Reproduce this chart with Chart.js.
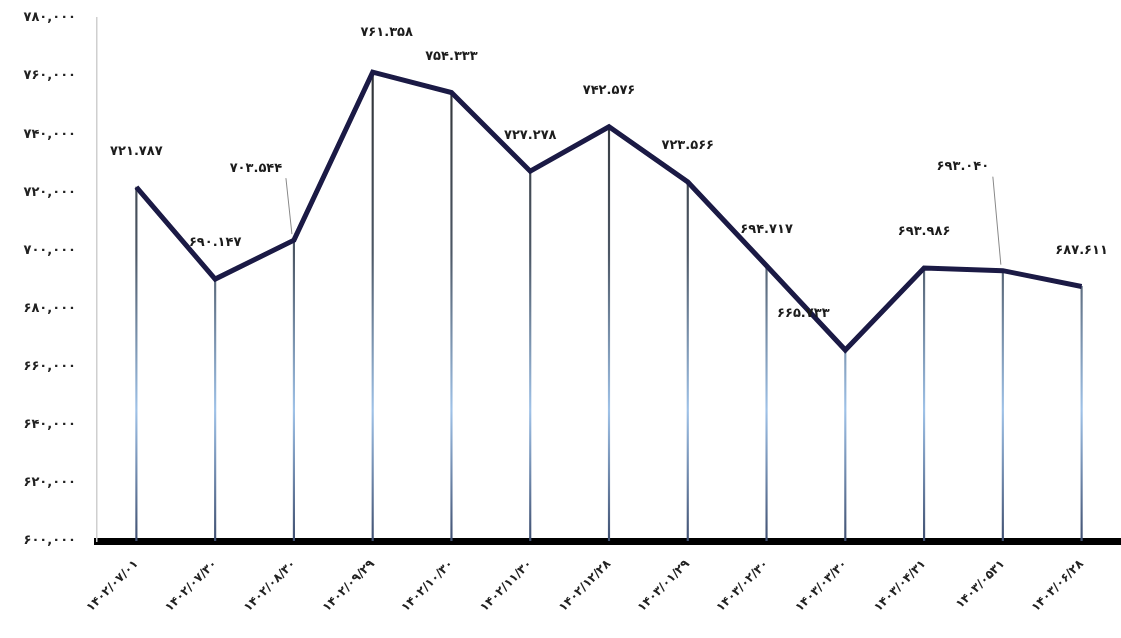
<!DOCTYPE html>
<html>
<head>
<meta charset="utf-8">
<script src="https://cdn.jsdelivr.net/npm/chart.js@4/dist/chart.umd.min.js"></script>
<style>
  html, body { margin: 0; padding: 0; background: #fff; }
  #wrap { width: 1121px; height: 638px; }
</style>
</head>
<body>
<div id="wrap"><canvas id="chart" width="1121" height="638"></canvas></div>
<script>
/* Data */
const dates = ['۱۴۰۲/۰۷/۰۱', '۱۴۰۲/۰۷/۳۰', '۱۴۰۲/۰۸/۳۰', '۱۴۰۲/۰۹/۲۹', '۱۴۰۲/۱۰/۳۰', '۱۴۰۲/۱۱/۳۰',
    '۱۴۰۲/۱۲/۲۸', '۱۴۰۳/۰۱/۲۹', '۱۴۰۳/۰۲/۳۰', '۱۴۰۳/۰۳/۳۰', '۱۴۰۳/۰۴/۳۱', '۱۴۰۳/۰۵۳۱', '۱۴۰۳/۰۶/۲۸'];
const values = [721787, 690147, 703544, 761358, 754333, 727278, 742576, 723566, 694717, 665733, 693986, 693040, 687611];
const yTicks = [600000, 620000, 640000, 660000, 680000, 700000, 720000, 740000, 760000, 780000];

const FA = '۰۱۲۳۴۵۶۷۸۹';
const toFa = s => String(s).replace(/\d/g, d => FA[d]);
const fmt = (n, sep) => toFa(Math.round(n).toString().replace(/\B(?=(\d{3})+(?!\d))/g, sep));

const FONT = '"DejaVu Sans", sans-serif';

// value labels with a few hand-placed ones (leader lines like the original)
const labelPlugin = {
    id: 'valueLabels',
    afterDatasetsDraw(chart, args, opts) {
        const meta = chart.getDatasetMeta(0);
        const ctx = chart.ctx;
        ctx.save();
        ctx.font = 'bold 13px ' + FONT;
        ctx.fillStyle = '#1c1c1c';
        ctx.textAlign = 'center';
        ctx.textBaseline = 'middle';
        meta.data.forEach((pt, i) => {
            const off = opts.offsets[i] || [0, -36];
            const lx = pt.x + off[0], ly = pt.y + off[1];
            if (opts.leaders.includes(i)) {
                ctx.strokeStyle = '#888';
                ctx.lineWidth = 1;
                ctx.beginPath();
                ctx.moveTo(lx + 30, ly + 10);
                ctx.lineTo(pt.x - 2, pt.y - 6);
                ctx.stroke();
            }
            ctx.fillText(fmt(values[i], '.'), lx, ly);
        });
        ctx.restore();
    }
};

const ctx = document.getElementById('chart').getContext('2d');

function dropGradient(context) {
    const area = context.chart.chartArea;
    if (!area) return '#444';
    const g = context.chart.ctx.createLinearGradient(0, area.top, 0, area.bottom);
    g.addColorStop(0, '#262626');
    g.addColorStop(0.45, '#4d5866');
    g.addColorStop(0.75, '#9fc2e8');
    g.addColorStop(1, '#3f4f70');
    return g;
}

new Chart(ctx, {
    data: {
        labels: dates,
        datasets: [
            {
                type: 'line',
                data: values,
                borderColor: '#1b1a45',
                borderWidth: 5,
                pointRadius: 0,
                tension: 0,
                order: 0
            },
            {
                type: 'bar',
                data: values,
                backgroundColor: dropGradient,
                barThickness: 1.5,
                order: 1
            }
        ]
    },
    options: {
        responsive: false,
        animation: false,
        layout: { padding: { top: 18, right: 0, left: 0, bottom: 0 } },
        plugins: {
            legend: { display: false },
            tooltip: { enabled: false },
            valueLabels: {
                offsets: { 2: [-38, -72], 3: [14, -40], 9: [-42, -36], 11: [-40, -104] },
                leaders: [2, 11]
            }
        },
        scales: {
            x: {
                offset: true,
                grid: { display: false },
                border: { color: '#000', width: 7 },
                afterFit: s => { s.height = 97; s.paddingTop = 0; },
                ticks: {
                    color: '#222',
                    font: { family: FONT, size: 12, weight: 'bold' },
                    minRotation: 45,
                    maxRotation: 45,
                    padding: 8
                }
            },
            y: {
                min: yTicks[0],
                max: yTicks[yTicks.length - 1],
                afterBuildTicks: s => { s.ticks = yTicks.map(v => ({ value: v })); },
                afterFit: s => { s.width = 97; s.paddingTop = 0; s.paddingBottom = 0; },
                grid: { display: false },
                border: { color: '#cfcfcf', width: 1.5 },
                ticks: {
                    color: '#222',
                    padding: 13,
                    font: { family: FONT, size: 13, weight: 'bold' },
                    callback: v => fmt(v, ',')
                }
            }
        }
    },
    plugins: [labelPlugin]
});
</script>
</body>
</html>
